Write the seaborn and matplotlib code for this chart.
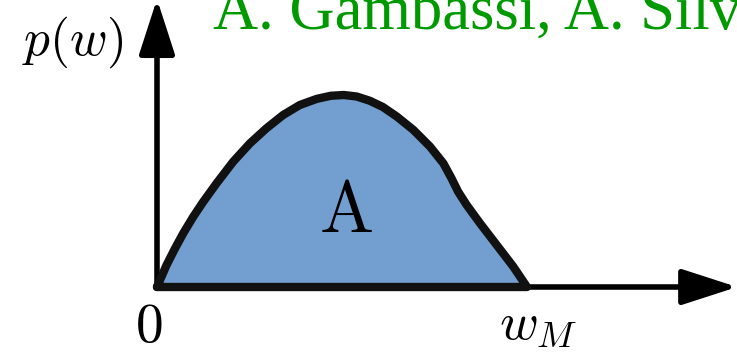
import numpy as np
import pandas as pd
import matplotlib
matplotlib.use("Agg")
import matplotlib.pyplot as plt
import seaborn as sns

sns.set_theme(style="white")
plt.rcParams["mathtext.fontset"] = "cm"
plt.rcParams["font.family"] = ["Liberation Serif", "DejaVu Serif"]
plt.rcParams["text.color"] = "black"

# Sketch of a distribution p(w) supported on [0, w_M], normalised to unit peak
w_vals = [0.0, 0.026, 0.049, 0.071, 0.098, 0.125, 0.161, 0.206, 0.251, 0.296,
          0.341, 0.386, 0.432, 0.470, 0.505, 0.540, 0.575, 0.610, 0.648, 0.693,
          0.738, 0.774, 0.796, 0.814, 0.837, 0.873, 0.918, 0.963, 1.0]
p_vals = [0.0, 0.115, 0.202, 0.280, 0.366, 0.444, 0.540, 0.653, 0.748, 0.827,
          0.896, 0.948, 0.980, 0.996, 1.0, 0.992, 0.970, 0.938, 0.888, 0.818,
          0.731, 0.644, 0.566, 0.496, 0.427, 0.332, 0.219, 0.106, 0.0]
region_label = "A"
x_label = r"$w_M$"
origin_label = r"$0$"
y_label = r"$p(w)$"
credit = "A. Gambassi, A. Silva"

fill_color = "#729fcf"
edge_color = "#111111"
green = "#009a00"

fig = plt.figure(figsize=(7.37, 3.56), dpi=100)
ax = fig.add_axes([0, 0, 1, 1])
ax.set_xlim(-157 / 370, 580 / 370)
ax.set_ylim(-69 / 192, 287 / 192)
ax.axis("off")

# axes drawn as arrows
arrow_kw = dict(arrowstyle="-|>,head_length=3.4,head_width=1.1",
                color="black", lw=4.0, shrinkA=0, shrinkB=0,
                mutation_scale=10)
ax.annotate("", xy=(0, 1.50), xytext=(0, 0), arrowprops=arrow_kw,
            annotation_clip=False)
ax.annotate("", xy=(1.568, 0), xytext=(0, 0), arrowprops=arrow_kw,
            annotation_clip=False)

# filled region under the curve
ax.fill_between(w_vals, p_vals, 0, color=fill_color, lw=0, zorder=3)

# closed outline: curve plus baseline back to the origin
outline = pd.DataFrame({"w": list(w_vals) + [0.0], "p": list(p_vals) + [0.0]})
sns.lineplot(data=outline, x="w", y="p", sort=False, estimator=None,
             color=edge_color, lw=6.0, ax=ax, zorder=4,
             solid_joinstyle="round", solid_capstyle="round")
ax.set_xlabel("")
ax.set_ylabel("")

ax.text(0.511, 0.375, r"$\mathrm{" + region_label + "}$", fontsize=52,
        color="black", ha="center", va="center", zorder=5)
ax.text(-0.227, 1.276, y_label, fontsize=37, color="black",
        ha="center", va="center")
ax.text(-0.022, -0.214, origin_label, fontsize=40, color="black",
        ha="center", va="center")
ax.text(1.03, -0.205, x_label, fontsize=38, color="black",
        ha="center", va="center")
ax.text(0.151, 1.344, credit, fontsize=45, color=green,
        ha="left", va="baseline")

fig.savefig("out.png", dpi=100)
